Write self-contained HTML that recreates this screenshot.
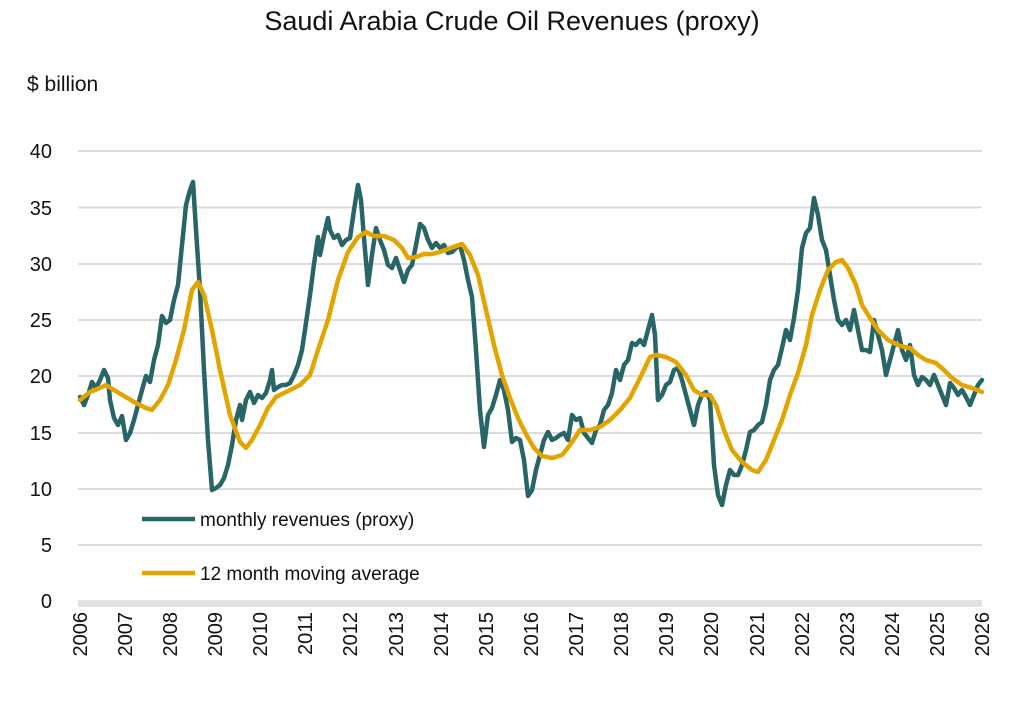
<!DOCTYPE html>
<html><head><meta charset="utf-8"><style>
html,body{margin:0;padding:0;background:#fff;}
svg{display:block;font-family:"Liberation Sans",sans-serif;}
</style></head><body>
<svg width="1024" height="715" viewBox="0 0 1024 715" xmlns="http://www.w3.org/2000/svg">
<text x="512" y="30" font-size="27" text-anchor="middle" fill="#111">Saudi Arabia Crude Oil Revenues (proxy)</text>
<text x="27" y="91" font-size="21" fill="#111">$ billion</text>
<g stroke="#dcdcdc" stroke-width="2">
<line x1="78" y1="151" x2="982" y2="151"/><line x1="78" y1="207.5" x2="982" y2="207.5"/>
<line x1="78" y1="264" x2="982" y2="264"/><line x1="78" y1="320" x2="982" y2="320"/>
<line x1="78" y1="376" x2="982" y2="376"/><line x1="78" y1="433" x2="982" y2="433"/>
<line x1="78" y1="489" x2="982" y2="489"/><line x1="78" y1="545" x2="982" y2="545"/>
</g>
<rect x="78" y="600" width="904" height="7" fill="#e2e2e2"/>
<g font-size="20" text-anchor="end" fill="#111">
<text x="52" y="158">40</text><text x="52" y="215">35</text><text x="52" y="271">30</text>
<text x="52" y="327">25</text><text x="52" y="383">20</text><text x="52" y="440">15</text>
<text x="52" y="496">10</text><text x="52" y="552">5</text><text x="52" y="608">0</text>
</g>
<g font-size="20" fill="#111" text-anchor="end">
<text transform="translate(87,612) rotate(-90)">2006</text>
<text transform="translate(132,612) rotate(-90)">2007</text>
<text transform="translate(177,612) rotate(-90)">2008</text>
<text transform="translate(222,612) rotate(-90)">2009</text>
<text transform="translate(267,612) rotate(-90)">2010</text>
<text transform="translate(312,612) rotate(-90)">2011</text>
<text transform="translate(357,612) rotate(-90)">2012</text>
<text transform="translate(403,612) rotate(-90)">2013</text>
<text transform="translate(448,612) rotate(-90)">2014</text>
<text transform="translate(493,612) rotate(-90)">2015</text>
<text transform="translate(538,612) rotate(-90)">2016</text>
<text transform="translate(583,612) rotate(-90)">2017</text>
<text transform="translate(628,612) rotate(-90)">2018</text>
<text transform="translate(673,612) rotate(-90)">2019</text>
<text transform="translate(718,612) rotate(-90)">2020</text>
<text transform="translate(764,612) rotate(-90)">2021</text>
<text transform="translate(809,612) rotate(-90)">2022</text>
<text transform="translate(854,612) rotate(-90)">2023</text>
<text transform="translate(899,612) rotate(-90)">2024</text>
<text transform="translate(944,612) rotate(-90)">2025</text>
<text transform="translate(989,612) rotate(-90)">2026</text>
</g>
<polyline fill="none" stroke="#286567" stroke-width="4.5" stroke-linejoin="round" stroke-linecap="round" points="80,397 84,405 88,395 92,382 96,388 100,380 104,370 108,378 110,400 114,418 118,425 122,416 126,440 130,433 134,420 138,405 142,390 146,376 150,382 154,360 158,345 162,316 166,323 170,320 174,300 178,285 182,245 186,205 190,190 193,182 196,230 200,290 204,370 208,440 212,490 216,488 220,485 224,478 228,465 232,445 236,420 240,405 242,420 246,400 250,392 254,403 258,395 262,398 266,393 270,380 272,370 274,390 278,387 282,385 286,385 290,383 294,375 298,365 302,350 306,323 310,295 314,264 318,237 320,255 324,235 328,218 330,230 334,238 338,235 342,245 346,240 350,238 354,210 358,185 361,200 364,238 368,285 372,255 376,228 380,240 384,250 388,265 392,268 396,258 400,270 404,282 408,270 412,265 416,245 420,224 424,228 428,240 432,248 436,243 440,248 444,245 448,253 452,252 456,248 460,245 464,260 468,280 472,297 476,350 480,410 484,447 488,415 492,408 496,395 500,380 504,390 508,410 512,442 516,438 520,440 524,460 528,496 532,490 536,470 540,455 544,440 548,432 552,440 556,438 560,435 564,433 568,440 572,415 576,420 580,418 584,433 588,438 592,443 596,430 600,425 604,410 608,405 612,393 616,370 620,380 624,365 628,360 632,343 636,345 640,340 644,345 648,330 652,315 655,335 658,400 662,395 666,385 670,382 674,370 678,368 682,380 686,395 690,410 694,425 698,405 702,395 706,392 710,400 714,465 718,495 722,505 726,485 730,470 734,475 738,475 742,465 746,450 750,432 754,430 758,425 762,422 766,405 770,380 774,370 778,365 782,348 786,330 790,340 794,318 798,290 802,248 806,233 810,228 814,198 818,215 822,240 826,250 830,275 834,300 838,320 842,325 846,320 850,330 854,310 858,330 862,350 866,350 870,352 874,320 878,335 882,350 886,375 890,360 894,345 898,330 902,350 906,360 910,345 914,375 918,385 922,377 926,380 930,385 934,375 938,385 942,395 946,405 950,383 954,388 958,395 962,390 966,397 970,405 974,395 978,385 982,380"/>
<polyline fill="none" stroke="#e2a500" stroke-width="4.5" stroke-linejoin="round" stroke-linecap="round" points="80,400 90,392 100,388 106,385 114,390 124,396 134,402 146,408 152,410 160,400 168,385 176,360 184,330 192,290 198,282 204,295 212,330 220,370 230,415 240,442 246,448 252,440 260,425 268,408 276,397 290,390 300,385 310,375 318,350 328,320 338,280 348,252 358,237 366,232 374,236 384,236 394,240 402,248 408,258 416,257 424,254 432,254 440,252 448,249 456,246 462,244 470,255 478,275 486,310 494,345 502,375 510,398 518,418 526,434 534,448 542,456 552,458 562,455 570,445 580,430 590,430 600,427 610,420 620,410 630,398 640,378 650,357 656,355 666,357 676,362 686,375 694,390 702,395 710,395 716,405 724,430 732,450 742,462 752,470 758,472 766,460 774,440 782,420 790,395 798,373 806,345 812,315 820,290 828,270 836,262 842,260 848,268 856,285 862,305 870,318 878,330 888,340 900,346 910,348 918,355 926,360 936,363 944,370 952,378 962,385 972,388 982,392"/>
<line x1="142" y1="519" x2="195" y2="519" stroke="#286567" stroke-width="4.5"/>
<text x="200" y="526" font-size="19" fill="#111">monthly revenues (proxy)</text>
<line x1="142" y1="573" x2="195" y2="573" stroke="#e2a500" stroke-width="4.5"/>
<text x="200" y="580" font-size="19" fill="#111">12 month moving average</text>
</svg>
</body></html>
